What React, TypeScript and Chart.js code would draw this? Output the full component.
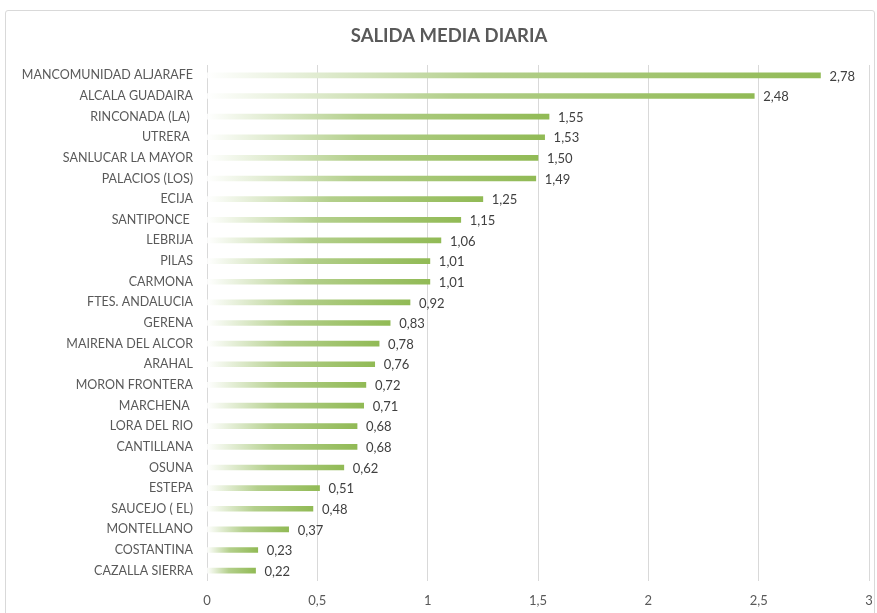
import React, { useEffect, useRef } from "react";
import { Chart, registerables } from "chart.js";

Chart.register(...registerables);

const categories: string[] = [
  "MANCOMUNIDAD ALJARAFE",
  "ALCALA GUADAIRA",
  "RINCONADA (LA) ",
  "UTRERA ",
  "SANLUCAR LA MAYOR",
  "PALACIOS (LOS)",
  "ECIJA",
  "SANTIPONCE ",
  "LEBRIJA",
  "PILAS",
  "CARMONA",
  "FTES. ANDALUCIA",
  "GERENA",
  "MAIRENA DEL ALCOR",
  "ARAHAL",
  "MORON FRONTERA",
  "MARCHENA ",
  "LORA DEL RIO",
  "CANTILLANA",
  "OSUNA",
  "ESTEPA",
  "SAUCEJO ( EL)",
  "MONTELLANO",
  "COSTANTINA",
  "CAZALLA SIERRA",
];

const values: number[] = [
  2.78, 2.48, 1.55, 1.53, 1.5, 1.49, 1.25, 1.15, 1.06, 1.01, 1.01, 0.92, 0.83,
  0.78, 0.76, 0.72, 0.71, 0.68, 0.68, 0.62, 0.51, 0.48, 0.37, 0.23, 0.22,
];

const xTicks: number[] = [0, 0.5, 1, 1.5, 2, 2.5, 3];

const TITLE = "SALIDA MEDIA DIARIA";
const FONT = "Lato, 'Open Sans', sans-serif";

const fmt = (v: number, d?: number) =>
  (d === undefined ? String(v) : v.toFixed(d)).replace(".", ",");

const titlePlugin = {
  id: "customTitle",
  afterDraw(chart: any) {
    const ctx = chart.ctx;
    ctx.save();
    ctx.fillStyle = "#595959";
    ctx.font = `bold 18.5px ${FONT}`;
    ctx.textAlign = "center";
    ctx.textBaseline = "middle";
    ctx.fillText(TITLE, 449, 36);
    ctx.restore();
  },
};

const valueLabelPlugin = {
  id: "valueLabels",
  afterDatasetsDraw(chart: any) {
    const ctx = chart.ctx;
    const meta = chart.getDatasetMeta(0);
    ctx.save();
    ctx.fillStyle = "#404040";
    ctx.font = `13px ${FONT}`;
    ctx.textAlign = "left";
    ctx.textBaseline = "middle";
    meta.data.forEach((bar: any, i: number) => {
      ctx.fillText(fmt(values[i], 2), bar.x + 9, bar.y + 1);
    });
    ctx.restore();
  },
};

export default function App() {
  const ref = useRef<HTMLCanvasElement | null>(null);

  useEffect(() => {
    if (!ref.current) return;
    const chart = new Chart(ref.current, {
      type: "bar",
      data: {
        labels: categories,
        datasets: [
          {
            data: values,
            barThickness: 5,
            backgroundColor: (c: any) => {
              const ch = c.chart;
              const xs = ch.scales && ch.scales.x;
              if (!xs || c.dataIndex === undefined) return "#92bb55";
              const x0 = xs.getPixelForValue(0);
              const x1 = xs.getPixelForValue(values[c.dataIndex]);
              if (!isFinite(x0) || !isFinite(x1) || x1 <= x0) return "#92bb55";
              const g = ch.ctx.createLinearGradient(x0, 0, x1, 0);
              g.addColorStop(0, "rgba(255,255,255,1)");
              g.addColorStop(0.45, "#b3cf8b");
              g.addColorStop(1, "#91ba55");
              return g;
            },
            borderWidth: 0,
          },
        ],
      },
      options: {
        indexAxis: "y",
        animation: false,
        responsive: false,
        maintainAspectRatio: false,
        layout: { padding: { left: 0, top: 65, right: 8, bottom: 0 } },
        plugins: {
          legend: { display: false },
          title: { display: false },
          tooltip: { enabled: false },
        },
        scales: {
          x: {
            min: 0,
            max: 3,
            afterBuildTicks: (s: any) => {
              s.ticks = xTicks.map((v) => ({ value: v }));
            },
            afterFit: (s: any) => {
              s.height = 32;
              s.paddingLeft = 0;
              s.paddingRight = 0;
            },
            ticks: {
              color: "#595959",
              font: { family: FONT, size: 13 },
              padding: 12,
              callback: (v: any) => fmt(Number(v)),
            },
            grid: { color: "#d9d9d9", drawTicks: false, lineWidth: 1 },
            border: { display: false },
          },
          y: {
            afterFit: (s: any) => {
              s.width = 207;
            },
            ticks: {
              color: "#595959",
              font: { family: FONT, size: 12.5 },
              padding: 14,
              autoSkip: false,
            },
            grid: { display: false, drawTicks: false },
            border: { display: false },
          },
        },
      },
      plugins: [titlePlugin, valueLabelPlugin],
    } as any);
    return () => chart.destroy();
  }, []);

  return (
    <div
      style={{
        position: "fixed",
        left: 0,
        top: 0,
        width: 877,
        height: 613,
        background: "#ffffff",
      }}
    >
      <div
        style={{
          position: "absolute",
          left: 5,
          top: 10,
          width: 870,
          height: 610,
          border: "1px solid #d9d9d9",
          borderRadius: 3,
          boxSizing: "border-box",
        }}
      />
      <canvas
        ref={ref}
        width={877}
        height={613}
        style={{ position: "absolute", left: 0, top: 0 }}
      />
    </div>
  );
}
